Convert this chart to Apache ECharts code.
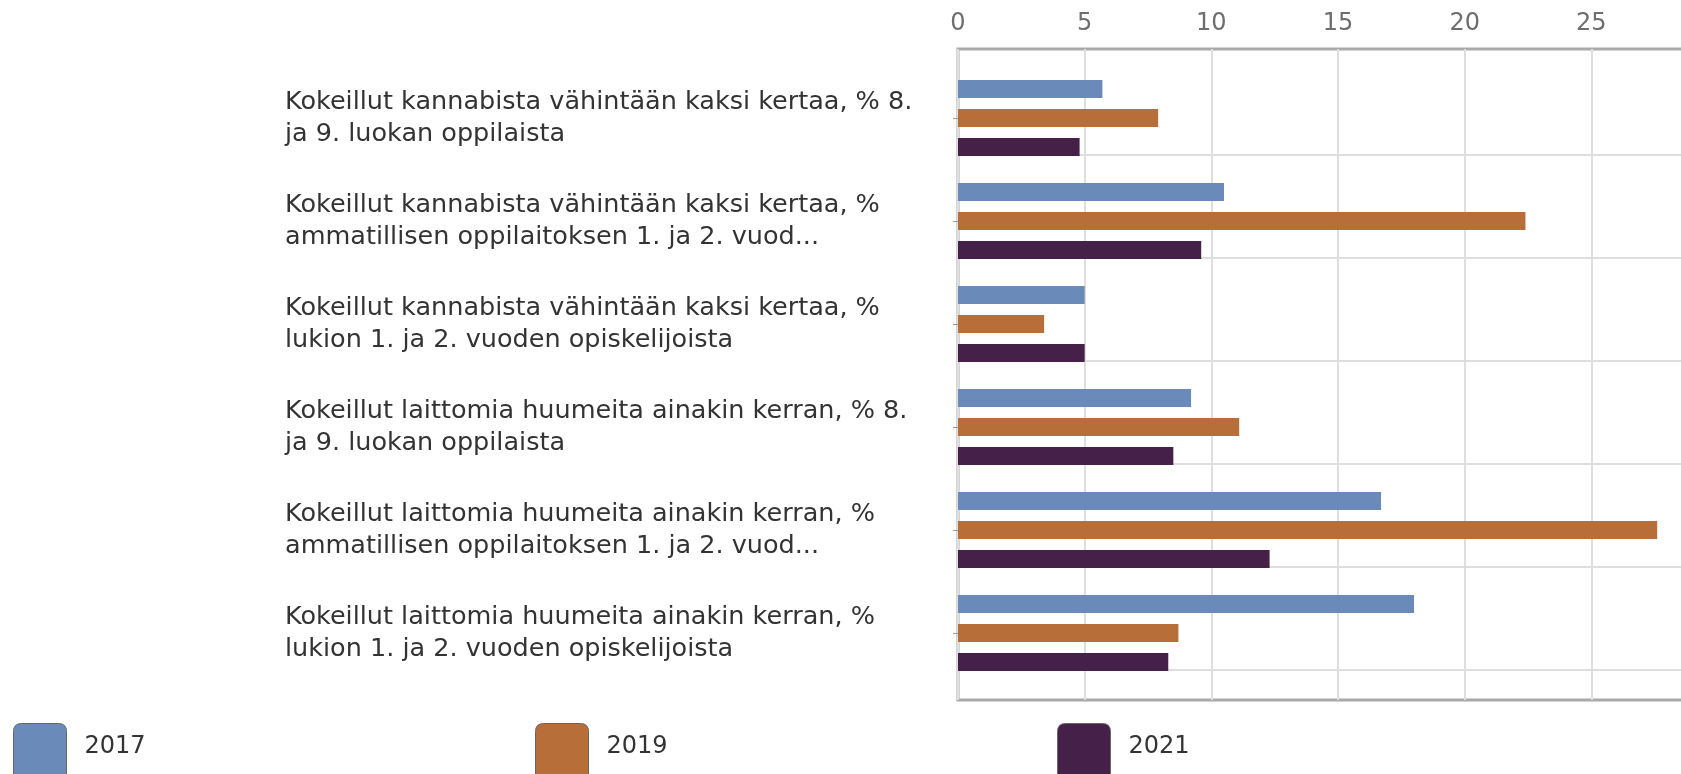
<!DOCTYPE html>
<html>
<head>
<meta charset="utf-8">
<script src="https://cdn.jsdelivr.net/npm/echarts@6/dist/echarts.min.js"></script>
<style>
html, body { margin: 0; padding: 0; overflow: hidden; background: #fff; }
#chart { width: 1760px; height: 774px; }
</style>
</head>
<body>
<div id="chart"></div>
<script>
// kategoriat (näkyvät rivit, katkaistu kuten kuvassa)
const categories = [
  'Kokeillut kannabista vähintään kaksi kertaa, % 8.\nja 9. luokan oppilaista',
  'Kokeillut kannabista vähintään kaksi kertaa, %\nammatillisen oppilaitoksen 1. ja 2. vuod...',
  'Kokeillut kannabista vähintään kaksi kertaa, %\nlukion 1. ja 2. vuoden opiskelijoista',
  'Kokeillut laittomia huumeita ainakin kerran, % 8.\nja 9. luokan oppilaista',
  'Kokeillut laittomia huumeita ainakin kerran, %\nammatillisen oppilaitoksen 1. ja 2. vuod...',
  'Kokeillut laittomia huumeita ainakin kerran, %\nlukion 1. ja 2. vuoden opiskelijoista'
]
const years = ['2017', '2019', '2021']
const values2017 = [5.7, 10.5, 5.0, 9.2, 16.7, 18.0]
const values2019 = [7.9, 22.4, 3.4, 11.1, 27.6, 8.7]
const values2021 = [4.8, 9.6, 5.0, 8.5, 12.3, 8.3]
const xMin = 0
const xMax = 30
const xStep = 5

const colors = ['#6a8bb9', '#b86e38', '#452049']
const font = 'DejaVu Sans'

const chart = echarts.init(document.getElementById('chart'))

const legendIcon = 'path://M8 0H45Q53 0 53 8V60H0V8Q0 0 8 0Z'
const legendLeft = [13, 535, 1057]

let option = {
  animation: false,
  textStyle: { fontFamily: font },
  grid: [
    // kehys + pystyviivat
    { left: 958, width: 760, top: 49, height: 651, show: true, borderColor: '#a9a9a9', borderWidth: 3, backgroundColor: 'transparent' },
    // vaakaviivat
    { left: 958, width: 760, top: 155, height: 515 },
    // palkit
    { left: 958, width: 760, top: 66.5, height: 618 }
  ],
  xAxis: [
    {
      gridIndex: 0,
      type: 'value',
      position: 'top',
      min: xMin,
      max: xMax,
      interval: xStep,
      axisLine: { show: false },
      axisTick: { show: false },
      axisLabel: { fontFamily: font, fontSize: 24, color: '#6e6e6e', margin: 13 },
      splitLine: { show: true, lineStyle: { color: '#dedede', width: 2 } }
    },
    { gridIndex: 1, type: 'value', min: xMin, max: xMax, show: false },
    { gridIndex: 2, type: 'value', min: xMin, max: xMax, show: false }
  ],
  yAxis: [
    { gridIndex: 0, type: 'value', show: false },
    {
      gridIndex: 1,
      type: 'value',
      inverse: true,
      min: 0,
      max: categories.length - 1,
      interval: 1,
      axisLine: { show: false },
      axisTick: { show: false },
      axisLabel: { show: false },
      splitLine: { show: true, lineStyle: { color: '#dedede', width: 2 } }
    },
    {
      gridIndex: 2,
      type: 'category',
      inverse: true,
      data: categories,
      axisLine: { show: false },
      axisTick: { show: true, alignWithLabel: true, length: 5, lineStyle: { color: '#999' } },
      axisLabel: {
        align: 'left',
        margin: 673,
        fontFamily: font,
        fontSize: 25.5,
        lineHeight: 32,
        color: '#333'
      },
      splitLine: { show: false }
    }
  ],
  legend: years.map((y, i) => ({
    data: [y],
    left: legendLeft[i],
    top: 723,
    padding: 0,
    selectedMode: false,
    icon: legendIcon,
    itemWidth: 53,
    itemHeight: 60,
    itemStyle: { borderColor: '#666', borderWidth: 1 },
    formatter: '{t|{name}}',
    textStyle: {
      fontFamily: font,
      fontSize: 24,
      color: '#333',
      rich: {
        t: { fontFamily: font, fontSize: 24, color: '#333', padding: [0, 0, 13, 13] }
      }
    }
  })),
  series: [
    { name: years[0], type: 'bar', xAxisIndex: 2, yAxisIndex: 2, data: values2017, barWidth: 18, barGap: '61%', itemStyle: { color: colors[0] } },
    { name: years[1], type: 'bar', xAxisIndex: 2, yAxisIndex: 2, data: values2019, barWidth: 18, barGap: '61%', itemStyle: { color: colors[1] } },
    { name: years[2], type: 'bar', xAxisIndex: 2, yAxisIndex: 2, data: values2021, barWidth: 18, barGap: '61%', itemStyle: { color: colors[2] } }
  ]
}

chart.setOption(option)
</script>
</body>
</html>
